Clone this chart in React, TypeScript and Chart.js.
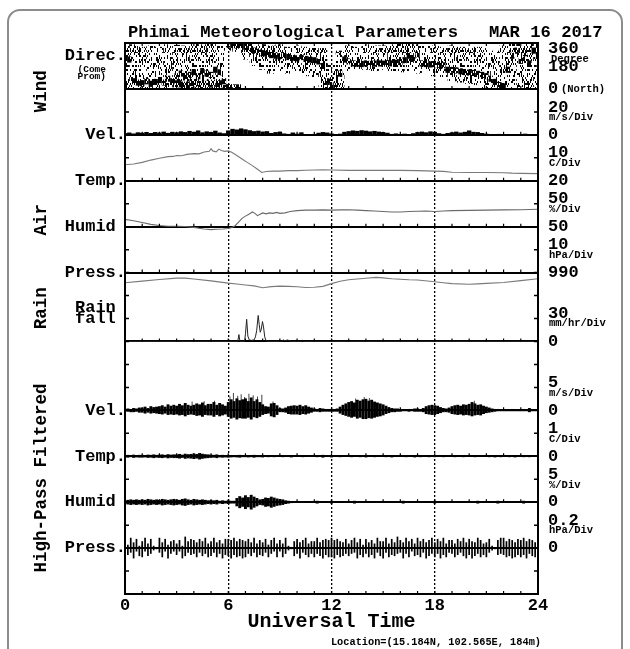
import React, { useEffect, useRef } from 'react';
import { Chart, registerables } from 'chart.js';

Chart.register(...registerables);

const FONT = '"Liberation Mono", "Courier New", "DejaVu Sans Mono", monospace';

// ---------- axis / panel definitions (in "divisions", 24 divisions tall) ----------
const X_TICKS = [0, 6, 12, 18, 24];
const BASELINES = [2, 4, 6, 8, 11, 14, 16, 18, 20, 22];
const P_DIR = { base: 22, ref: 0, perDiv: 180 };
const P_VEL = { base: 20, ref: 0, perDiv: 20 };
const P_TEMP = { base: 18, ref: 20, perDiv: 10 };
const P_HUM = { base: 16, ref: 50, perDiv: 50 };
const P_PRESS = { base: 14, ref: 990, perDiv: 10 };
const P_RAIN = { base: 11, ref: 0, perDiv: 30 };
const P_HPVEL = { base: 8, ref: 0, perDiv: 5 };
const P_HPTEMP = { base: 6, ref: 0, perDiv: 1 };
const P_HPHUM = { base: 4, ref: 0, perDiv: 5 };
const P_HPPRESS = { base: 2, ref: 0, perDiv: 0.2 };

const LEFT_LABELS = ['Direc.', 'Vel.', 'Temp.', 'Humid ', 'Press.', 'Rain ', 'fall ', 'Vel.', 'Temp.', 'Humid ', 'Press.'];
const LEFT_LABEL_DIVS = [23.43, 20, 18, 16, 14, 12.49, 12.0, 8, 6, 4, 2];
const LEFT_SMALL = ['(Come', 'Prom)'];
const LEFT_SMALL_DIVS = [22.83, 22.52];
const RIGHT_VALUES = ['360', '180', '0', '20', '0', '10', '20', '50', '50', '10', '990', '30', '0', '5', '0', '1', '0', '5', '0', '0.2', '0'];
const RIGHT_VALUE_DIVS = [23.77, 22.97, 22, 21.2, 20, 19.2, 18, 17.2, 16, 15.2, 14, 12.22, 11, 9.2, 8, 7.18, 6, 5.2, 4, 3.2, 2];
const RIGHT_UNITS = ['Degree', 'm/s/Div', 'C/Div', '%/Div', 'hPa/Div', 'mm/hr/Div', 'm/s/Div', 'C/Div', '%/Div', 'hPa/Div'];
const RIGHT_UNIT_DIVS = [23.3, 20.74, 18.74, 16.76, 14.76, 11.8, 8.74, 6.74, 4.75, 2.78];
const GROUP_LABELS = ['Wind', 'Air', 'Rain', 'High-Pass Filtered'];
const GROUP_DIVS = [21.9, 16.3, 12.45, 5.05];
const TITLE = 'Phimai Meteorological Parameters   MAR 16 2017';
const LOCATION = 'Location=(15.184N, 102.565E, 184m)';

// ---------- data ----------
// Wind direction (deg): scatter spread every 30 min, dark band every 15 min
const DIR_SPREAD_LO = [0, 0, 0, 0, 0, 0, 0, 0, 0, 0, 0, 0,
  300, 290, 230, 180, 150, 120, 130, 120, 140, 100, 90, 0,
  0, 0, 140, 150, 150, 140, 150, 140, 130, 140, 120, 140,
  100, 90, 60, 50, 40, 30, 0, 0, 0, 0, 0, 0, 0];
const DIR_SPREAD_HI = [360, 350, 330, 340, 330, 350, 345, 340, 360, 350, 360, 360,
  360, 360, 360, 360, 350, 340, 350, 330, 340, 330, 330, 320,
  200, 300, 340, 330, 350, 340, 340, 350, 360, 360, 350, 340,
  340, 330, 340, 330, 320, 330, 320, 300, 340, 360, 360, 360, 360];
const DIR_CORE = [250, 230, 60, 50, 45, 60, 40, 55, 70, 50, 80, 60, 100, 120, 90, 110,
  130, 100, 140, 120, 110, 150, 130, 60, 350, 345, 340, 345, 330, 320, 300, 290,
  280, 275, 265, 260, 255, 265, 250, 245, 240, 250, 235, 230, 225, 215, 180, 60,
  30, 20, 120, 230, 215, 200, 198, 195, 200, 196, 198, 200, 198, 202, 200, 205,
  210, 225, 260, 235, 270, 200, 195, 192, 195, 190, 185, 150, 150, 145, 138, 132,
  128, 125, 118, 110, 100, 80, 55, 30, 20, 150, 260, 300, 220, 280, 200, 300, 250];
const DIR_SECOND = [null, null, null, null, null, null, 40, 30, 50, 35, 45, 40,
  10, 8, null, null, null, null, null, null, null, null, null, null,
  null, null, null, null, null, null, null, null, null, null, null, null,
  null, null, null, null, null, null, null, null, null, null, null, null, null];

// Wind speed envelope (m/s), every 15 min
const WIND_VEL = [1.5, 2.0, 1.2, 2.2, 1.8, 2.5, 1.6, 2.4, 2.0, 2.8, 1.7, 2.6, 2.2, 3.0, 2.4, 3.4,
  2.6, 3.8, 2.2, 3.0, 2.4, 3.6, 2.0, 1.4, 3.8, 5.2, 4.6, 5.6, 4.8, 4.0, 3.2, 3.6,
  2.8, 3.2, 1.6, 2.4, 2.8, 1.2, 0.8, 2.0, 1.0, 2.2, 0.6, 0.4, 0.8, 1.8, 2.4, 2.0,
  1.2, 0.6, 1.0, 2.6, 3.2, 3.8, 3.4, 4.0, 3.6, 3.0, 3.4, 2.8, 2.4, 1.8, 0.8, 1.2,
  0.6, 1.0, 0.5, 1.4, 2.4, 2.8, 2.2, 3.0, 2.6, 1.4, 0.8, 1.6, 2.2, 2.8, 2.0, 2.6,
  3.8, 2.6, 2.4, 1.6, 1.0, 0.6, 0.4, 0.8, 0.4, 0.2, 0.6, 0.3, 0.4, 1.0, 0.3, 0.2, 0.2];

// Air temperature (C)
const TEMP_HOURS = [0, 0.5, 1, 1.5, 2, 2.5, 2.8, 3, 3.3, 3.6, 4, 4.3, 4.6, 4.9, 5, 5.1, 5.3, 5.45, 5.6, 5.8, 6, 6.2, 6.5, 6.8, 7.1, 7.4, 7.7, 7.95, 8.2, 8.6, 9, 9.5, 10, 10.5, 11, 11.5, 12, 13, 14, 15, 16, 17, 18, 18.5, 19, 20, 21, 22, 22.5, 23, 24];
const TEMP_C = [27.0, 27.3, 28.0, 29.0, 29.8, 30.5, 30.6, 31.0, 30.9, 31.5, 31.8, 31.7, 32.5, 32.8, 34.0, 33.0, 32.6, 33.8, 33.2, 32.8, 33.0, 32.4, 31.0, 29.5, 28.0, 26.6, 25.0, 23.6, 24.0, 24.2, 24.2, 24.4, 24.4, 24.6, 24.7, 24.8, 24.7, 24.5, 24.5, 24.6, 24.5, 24.4, 24.2, 24.1, 23.7, 23.6, 23.6, 23.5, 23.3, 23.2, 23.1];

// Relative humidity (%)
const HUM_HOURS = [0, 0.5, 1, 1.5, 2, 2.5, 3, 3.5, 4, 4.3, 4.6, 5, 5.3, 5.7, 6, 6.2, 6.4, 6.6, 6.8, 7, 7.2, 7.4, 7.55, 7.7, 7.85, 8, 8.2, 8.4, 8.6, 8.8, 9, 9.3, 9.6, 10, 10.5, 11, 11.5, 12, 12.5, 13, 13.5, 14, 14.5, 15, 15.5, 16, 16.5, 17, 17.5, 18, 18.5, 19, 20, 21, 22, 23, 24];
const HUM_PCT = [66, 63, 59, 55, 52.5, 51, 50.8, 50.5, 48.5, 46.5, 45, 43.5, 44.5, 45, 46, 48, 52, 60, 68, 73, 77, 82, 79, 74, 77, 80, 78, 80, 79, 81, 79, 80, 83, 85, 86, 86, 86.5, 86, 86.5, 87, 86, 85, 84, 83, 82, 82, 83, 83.5, 84, 83, 84, 85, 85.5, 86, 86.5, 87, 88];

// Pressure (hPa)
const PRESS_HOURS = [0, 1, 2, 3, 3.5, 4, 5, 6, 6.5, 7, 7.5, 8, 8.5, 9, 9.5, 10, 10.5, 11, 11.5, 12, 12.5, 13, 14, 14.6, 15, 15.5, 16, 16.5, 17, 18, 18.5, 19, 20, 20.5, 21, 22, 23, 24];
const PRESS_HPA = [985.6, 986.3, 987.0, 987.6, 987.6, 987.2, 986.4, 985.4, 985.0, 984.6, 984.2, 983.4, 983.9, 984.1, 984.0, 983.8, 983.5, 983.6, 984.0, 985.2, 986.2, 986.9, 987.5, 987.9, 987.7, 987.3, 987.1, 986.9, 986.8, 986.0, 985.6, 985.2, 984.9, 985.1, 985.3, 985.7, 986.5, 987.3];

// Rain fall rate (mm/hr)
const RAIN_HOURS = [0, 6.55, 6.62, 6.68, 6.95, 7.0, 7.07, 7.14, 7.22, 7.35, 7.5, 7.58, 7.65, 7.74, 7.8, 7.86, 7.92, 7.99, 8.05, 8.12, 8.2, 8.3, 9.1, 9.2, 9.3, 9.45, 9.6, 9.7, 10.25, 10.32, 10.4, 24];
const RAIN_RATE = [0, 0, 9, 0, 0, 10, 29, 7, 2, 1.5, 2, 6, 14, 34, 22, 12, 16, 26, 19, 6, 1, 0, 0, 2, 1, 2, 0.5, 0, 0, 1.5, 0, 0];

// High-pass filtered envelopes, every 10 min
const HP_VEL_UP = [0.3, 0.4, 0.3, 0.5, 0.4, 0.6, 0.6, 0.8, 0.5, 0.9, 0.7, 0.8, 0.9, 1.1, 0.8, 1.3, 1.0, 1.2,
  1.0, 1.4, 1.1, 1.6, 1.2, 1.0, 1.2, 1.5, 1.3, 1.7, 1.1, 1.4, 1.4, 1.8, 1.2, 1.6, 1.3, 1.0,
  1.8, 2.4, 2.0, 2.6, 2.2, 2.4, 2.6, 2.0, 2.8, 2.0, 2.4, 1.8, 1.3, 0.9, 0.8, 1.5, 1.6, 1.1,
  0.5, 0.4, 0.6, 0.9, 1.0, 1.1, 1.0, 1.2, 0.9, 1.1, 0.8, 0.6, 0.4, 0.3, 0.5, 0.4, 0.3, 0.3,
  0.3, 0.3, 0.4, 0.8, 1.2, 1.5, 1.8, 2.0, 1.7, 2.3, 2.1, 2.4, 2.5, 2.1, 2.3, 1.9, 1.7, 1.5,
  1.3, 1.0, 0.7, 0.5, 0.4, 0.4, 0.3, 0.3, 0.2, 0.3, 0.3, 0.4, 0.4, 0.3, 0.5, 0.9, 1.1, 1.2,
  1.1, 1.0, 0.7, 0.5, 0.4, 0.6, 0.9, 1.1, 1.2, 1.0, 1.3, 1.2, 1.4, 1.8, 1.5, 1.2, 1.3, 1.0,
  0.8, 0.6, 0.4, 0.3, 0.3, 0.2, 0.2, 0.2, 0.2, 0.3, 0.2, 0.2, 0.2, 0.3, 0.2, 0.5, 0.3, 0.2, 0.2];
const HP_VEL_DN = [0.3, 0.3, 0.4, 0.4, 0.3, 0.5, 0.5, 0.7, 0.5, 0.7, 0.6, 0.7, 0.8, 0.9, 0.7, 1.0, 0.9, 1.0,
  0.9, 1.1, 1.0, 1.3, 1.0, 0.9, 1.0, 1.2, 1.1, 1.4, 1.0, 1.1, 1.1, 1.4, 1.0, 1.3, 1.1, 0.9,
  1.4, 1.8, 1.6, 2.0, 1.7, 1.8, 1.8, 1.6, 2.0, 1.5, 1.7, 1.4, 1.0, 0.8, 0.7, 1.3, 1.5, 1.0,
  0.4, 0.4, 0.5, 0.8, 0.9, 0.9, 0.9, 1.0, 0.8, 0.9, 0.7, 0.5, 0.3, 0.3, 0.4, 0.3, 0.3, 0.3,
  0.3, 0.3, 0.3, 0.7, 1.0, 1.2, 1.4, 1.6, 1.4, 1.8, 1.6, 1.9, 1.9, 1.7, 1.8, 1.6, 1.4, 1.3,
  1.1, 0.8, 0.6, 0.4, 0.4, 0.3, 0.3, 0.2, 0.2, 0.3, 0.2, 0.3, 0.3, 0.3, 0.4, 0.8, 0.9, 1.0,
  1.0, 0.8, 0.6, 0.4, 0.4, 0.5, 0.8, 0.9, 1.0, 0.9, 1.1, 1.0, 1.1, 1.3, 1.1, 1.0, 1.1, 0.8,
  0.6, 0.5, 0.4, 0.3, 0.2, 0.2, 0.2, 0.2, 0.2, 0.2, 0.2, 0.2, 0.2, 0.2, 0.2, 0.4, 0.2, 0.2, 0.2];
// isolated gust spikes of the filtered wind speed (m/s)
const HP_VEL_SPIKE_HOURS = [3.9, 4.6, 5.2, 6.1, 6.3, 6.55, 6.75, 6.95, 7.2, 7.45, 7.7, 7.95, 8.6, 13.4, 13.9, 14.2, 20.3];
const HP_VEL_SPIKE = [1.9, 2.0, 2.1, 3.0, 3.8, 3.2, 3.5, 2.9, 3.6, 3.3, 3.0, 3.4, 1.9, 2.6, 2.9, 2.7, 2.1];
const HP_TEMP_AMP = [0.05, 0.06, 0.04, 0.07, 0.05, 0.06, 0.06, 0.05, 0.07, 0.06, 0.08, 0.06,
  0.07, 0.08, 0.06, 0.09, 0.07, 0.08, 0.08, 0.10, 0.07, 0.11, 0.09, 0.10, 0.12, 0.10, 0.14, 0.11, 0.09, 0.08,
  0.07, 0.06, 0.08, 0.05, 0.06, 0.05, 0.06, 0.05, 0.04, 0.05, 0.06, 0.04, 0.04, 0.05, 0.04, 0.06, 0.04, 0.04,
  0.05, 0.03, 0.04, 0.03, 0.04, 0.03, 0.03, 0.04, 0.03, 0.03, 0.05, 0.03, 0.03, 0.03, 0.04, 0.03, 0.03, 0.03,
  0.03, 0.04, 0.03, 0.06, 0.03, 0.03, 0.05, 0.03, 0.03, 0.04, 0.03, 0.03, 0.03, 0.04, 0.03, 0.03, 0.04, 0.03,
  0.05, 0.03, 0.03, 0.04, 0.03, 0.03, 0.03, 0.04, 0.03, 0.05, 0.03, 0.03, 0.03, 0.03, 0.04, 0.03, 0.03, 0.05,
  0.03, 0.04, 0.03, 0.03, 0.04, 0.03, 0.04, 0.03, 0.03, 0.04, 0.03, 0.03, 0.03, 0.04, 0.03, 0.03, 0.04, 0.03,
  0.03, 0.03, 0.04, 0.03, 0.03, 0.03, 0.03, 0.04, 0.03, 0.05, 0.03, 0.04, 0.03, 0.03, 0.04, 0.03, 0.05, 0.03,
  0.03, 0.04, 0.03, 0.04, 0.03, 0.03, 0.03];
const HP_HUM_AMP = [0.4, 0.5, 0.6, 0.5, 0.6, 0.5, 0.6, 0.5, 0.7, 0.6, 0.5, 0.6, 0.5, 0.7, 0.6, 0.5, 0.6, 0.7,
  0.6, 0.5, 0.7, 0.8, 0.6, 0.5, 0.7, 0.6, 0.5, 0.6, 0.5, 0.4, 0.5, 0.4, 0.5, 0.3, 0.4, 0.3,
  0.4, 0.3, 0.3, 0.9, 1.3, 1.0, 1.5, 1.1, 1.6, 1.2, 0.9, 0.6, 0.7, 1.0, 0.9, 1.2, 1.0, 0.8,
  0.7, 0.6, 0.4, 0.3, 0.2, 0.15, 0.1, 0.1, 0.15, 0.1, 0.1, 0.1, 0.1, 0.3, 0.1, 0.1, 0.1, 0.1,
  0.3, 0.1, 0.1, 0.1, 0.1, 0.1, 0.1, 0.1, 0.3, 0.1, 0.1, 0.1, 0.1, 0.1, 0.1, 0.1, 0.1, 0.1,
  0.1, 0.1, 0.1, 0.1, 0.1, 0.1, 0.1, 0.3, 0.1, 0.1, 0.1, 0.1, 0.1, 0.1, 0.1, 0.1, 0.1, 0.1,
  0.3, 0.1, 0.1, 0.1, 0.1, 0.1, 0.1, 0.1, 0.1, 0.1, 0.1, 0.1, 0.1, 0.1, 0.1, 0.3, 0.1, 0.1,
  0.1, 0.1, 0.1, 0.1, 0.3, 0.1, 0.1, 0.1, 0.1, 0.1, 0.1, 0.1, 0.1, 0.3, 0.1, 0.1, 0.1, 0.1, 0.1];
const HP_PRESS_UP = [0.07, 0.03, 0.09, 0.05, 0.08, 0.02, 0.06, 0.09, 0.04, 0.08, 0.02, 0.01,
  0.09, 0.05, 0.08, 0.03, 0.06, 0.07, 0.04, 0.07, 0.02, 0.10, 0.06, 0.08, 0.07, 0.05, 0.08, 0.06, 0.09, 0.04,
  0.06, 0.09, 0.05, 0.07, 0.04, 0.08, 0.08, 0.07, 0.09, 0.06, 0.08, 0.07, 0.06, 0.08, 0.05, 0.09, 0.04, 0.07,
  0.05, 0.08, 0.03, 0.07, 0.09, 0.04, 0.07, 0.04, 0.09, 0.02, 0.01, 0.06, 0.08, 0.05, 0.07, 0.09, 0.04, 0.06,
  0.06, 0.09, 0.05, 0.07, 0.08, 0.07, 0.09, 0.07, 0.08, 0.06, 0.05, 0.08, 0.04, 0.07, 0.09, 0.05, 0.08, 0.03,
  0.08, 0.05, 0.07, 0.04, 0.09, 0.06, 0.06, 0.09, 0.04, 0.08, 0.05, 0.10, 0.07, 0.05, 0.09, 0.06, 0.08, 0.04,
  0.09, 0.06, 0.08, 0.05, 0.07, 0.09, 0.05, 0.08, 0.06, 0.09, 0.04, 0.07, 0.07, 0.04, 0.08, 0.06, 0.09, 0.05,
  0.08, 0.06, 0.05, 0.09, 0.07, 0.04, 0.05, 0.08, 0.02, 0.01, 0.07, 0.09, 0.09, 0.06, 0.08, 0.07, 0.05, 0.08,
  0.07, 0.09, 0.06, 0.08, 0.07, 0.05, 0.06];
const HP_PRESS_DN = [0.05, 0.06, 0.04, 0.09, 0.03, 0.07, 0.08, 0.03, 0.07, 0.05, 0.02, 0.01,
  0.04, 0.08, 0.03, 0.09, 0.05, 0.03, 0.06, 0.03, 0.09, 0.07, 0.04, 0.06, 0.05, 0.08, 0.04, 0.07, 0.05, 0.08,
  0.07, 0.04, 0.08, 0.05, 0.09, 0.06, 0.07, 0.09, 0.06, 0.08, 0.07, 0.09, 0.08, 0.05, 0.07, 0.04, 0.08, 0.06,
  0.07, 0.04, 0.08, 0.05, 0.03, 0.08, 0.03, 0.08, 0.05, 0.02, 0.01, 0.07, 0.05, 0.09, 0.04, 0.06, 0.08, 0.05,
  0.08, 0.05, 0.07, 0.09, 0.06, 0.08, 0.08, 0.09, 0.06, 0.08, 0.07, 0.05, 0.07, 0.05, 0.04, 0.09, 0.06, 0.08,
  0.05, 0.08, 0.06, 0.09, 0.04, 0.07, 0.09, 0.04, 0.08, 0.06, 0.07, 0.05, 0.04, 0.09, 0.05, 0.08, 0.03, 0.07,
  0.06, 0.08, 0.04, 0.09, 0.07, 0.05, 0.08, 0.05, 0.09, 0.06, 0.08, 0.04, 0.05, 0.08, 0.06, 0.04, 0.07, 0.09,
  0.06, 0.09, 0.07, 0.05, 0.08, 0.06, 0.08, 0.04, 0.02, 0.01, 0.06, 0.05, 0.06, 0.08, 0.07, 0.09, 0.08, 0.06,
  0.08, 0.06, 0.09, 0.05, 0.07, 0.08, 0.05];

// ---------- helpers ----------
const toDiv = (p: any, v: number) => p.base + (v - p.ref) / p.perDiv;

// speckled fill texture (a style, like a hatch pattern) to imitate the dense dot plot
function speckle(ctx: CanvasRenderingContext2D, coverage: number, seed: number) {
  const c = document.createElement('canvas');
  c.width = 67;
  c.height = 53;
  const g = c.getContext('2d') as CanvasRenderingContext2D;
  g.fillStyle = '#000';
  for (let x = 0; x < c.width; x++) {
    for (let y = 0; y < c.height; y++) {
      const k = Math.floor(y / 2);
      let h = Math.imul(x + 1, 73856093) ^ Math.imul(k + 7, 19349663) ^ Math.imul(seed, 83492791);
      h = Math.imul(h ^ (h >>> 13), 1274126177);
      h ^= h >>> 16;
      if (((h >>> 0) % 1000) / 1000 < coverage) g.fillRect(x, y, 1, 1);
    }
  }
  return ctx.createPattern(c, 'repeat');
}

function buildDatasets(ctx: CanvasRenderingContext2D) {
  const bar = (extra: any) => ({ type: 'bar', grouped: false, borderWidth: 0, inflateAmount: 0, ...extra });
  const line = (extra: any) => ({ type: 'line', pointRadius: 0, tension: 0, fill: false, ...extra });
  return [
    bar({
      label: 'dir spread', order: 10, barThickness: 8.7, backgroundColor: speckle(ctx, 0.3, 3),
      data: DIR_SPREAD_LO.map((lo, i) => ({ x: i * 0.5, y: [toDiv(P_DIR, lo), toDiv(P_DIR, DIR_SPREAD_HI[i])] })),
    }),
    bar({
      label: 'dir core', order: 9, barThickness: 4.4, backgroundColor: speckle(ctx, 0.78, 11),
      data: DIR_CORE.map((d, i) => ({ x: i * 0.25, y: [toDiv(P_DIR, Math.max(0, d - 24)), toDiv(P_DIR, Math.min(360, d + 24))] })),
    }),
    bar({
      label: 'dir second', order: 9, barThickness: 8.7, backgroundColor: speckle(ctx, 0.6, 17),
      data: DIR_SECOND.map((d, i) => (d === null ? null : { x: i * 0.5, y: [toDiv(P_DIR, Math.max(0, d - 28)), toDiv(P_DIR, d + 28)] })).filter(Boolean),
    }),
    bar({
      label: 'wind vel', order: 5, barThickness: 4.4, backgroundColor: '#000',
      data: WIND_VEL.map((v, i) => ({ x: i * 0.25, y: [P_VEL.base, toDiv(P_VEL, v)] })),
    }),
    line({
      label: 'temp', order: 5, borderColor: '#7a7a7a', borderWidth: 1.1,
      data: TEMP_C.map((c, i) => ({ x: TEMP_HOURS[i], y: toDiv(P_TEMP, c) })),
    }),
    line({
      label: 'humid', order: 5, borderColor: '#6a6a6a', borderWidth: 1.1,
      data: HUM_PCT.map((h, i) => ({ x: HUM_HOURS[i], y: toDiv(P_HUM, h) })),
    }),
    line({
      label: 'press', order: 5, borderColor: '#7a7a7a', borderWidth: 1.1,
      data: PRESS_HPA.map((p, i) => ({ x: PRESS_HOURS[i], y: toDiv(P_PRESS, p) })),
    }),
    line({
      label: 'rain', order: 5, borderColor: '#222', borderWidth: 1,
      data: RAIN_RATE.map((r, i) => ({ x: RAIN_HOURS[i], y: toDiv(P_RAIN, r) })),
    }),
    bar({
      label: 'hp vel', order: 5, barThickness: 2.9, backgroundColor: '#000',
      data: HP_VEL_UP.map((u, i) => ({ x: i / 6, y: [toDiv(P_HPVEL, -HP_VEL_DN[i]), toDiv(P_HPVEL, u)] })),
    }),
    bar({
      label: 'hp vel spikes', order: 5, barThickness: 1, backgroundColor: '#444',
      data: HP_VEL_SPIKE.map((v, i) => ({ x: HP_VEL_SPIKE_HOURS[i], y: [P_HPVEL.base, toDiv(P_HPVEL, v)] })),
    }),
    bar({
      label: 'hp temp', order: 5, barThickness: 2.9, backgroundColor: '#000',
      data: HP_TEMP_AMP.map((a, i) => ({ x: i / 6, y: [toDiv(P_HPTEMP, -a), toDiv(P_HPTEMP, a)] })),
    }),
    bar({
      label: 'hp humid', order: 5, barThickness: 2.9, backgroundColor: '#000',
      data: HP_HUM_AMP.map((a, i) => ({ x: i / 6, y: [toDiv(P_HPHUM, -a), toDiv(P_HPHUM, a)] })),
    }),
    bar({
      label: 'hp press', order: 5, barThickness: 1.7, backgroundColor: '#000',
      data: HP_PRESS_UP.map((u, i) => ({ x: i / 6, y: [toDiv(P_HPPRESS, -HP_PRESS_DN[i]), toDiv(P_HPPRESS, u)] })),
    }),
  ];
}

const decorPlugin = {
  id: 'decor',
  afterDraw(chart: any) {
    const { ctx, chartArea: a } = chart;
    const xs = chart.scales.x;
    const ys = chart.scales.y;
    const Y = (d: number) => ys.getPixelForValue(d);
    ctx.save();

    // outer rounded frame
    ctx.strokeStyle = '#8c8c8c';
    ctx.lineWidth = 2;
    ctx.beginPath();
    ctx.moveTo(8, 649);
    ctx.lineTo(8, 22);
    ctx.arcTo(8, 10, 20, 10, 12);
    ctx.lineTo(610, 10);
    ctx.arcTo(622, 10, 622, 22, 12);
    ctx.lineTo(622, 649);
    ctx.stroke();

    // plot frame
    ctx.strokeStyle = '#000';
    ctx.lineWidth = 2;
    ctx.strokeRect(a.left, a.top, a.right - a.left, a.bottom - a.top);

    // inward division ticks on both side borders
    ctx.lineWidth = 1.5;
    ctx.beginPath();
    for (let d = 1; d < 24; d++) {
      const py = Y(d);
      ctx.moveTo(a.left, py); ctx.lineTo(a.left + 4, py);
      ctx.moveTo(a.right, py); ctx.lineTo(a.right - 4, py);
    }
    ctx.stroke();

    // hourly ticks on each baseline, bottom and top borders
    ctx.lineWidth = 1.2;
    ctx.beginPath();
    for (let h = 1; h < 24; h++) {
      const px = xs.getPixelForValue(h);
      [...BASELINES, 0].forEach((b) => { const py = Y(b); ctx.moveTo(px, py); ctx.lineTo(px, py - 3); });
      ctx.moveTo(px, a.top); ctx.lineTo(px, a.top + 3);
    }
    ctx.stroke();

    ctx.fillStyle = '#000';
    ctx.textBaseline = 'middle';

    // title
    ctx.font = `bold 17.2px ${FONT}`;
    ctx.textAlign = 'left';
    ctx.fillText(TITLE, 128, 33);

    // left labels
    ctx.textAlign = 'right';
    ctx.font = `bold 17px ${FONT}`;
    LEFT_LABELS.forEach((t, i) => ctx.fillText(t, a.left + 1, Y(LEFT_LABEL_DIVS[i])));
    ctx.font = `bold 9.5px ${FONT}`;
    LEFT_SMALL.forEach((t, i) => ctx.fillText(t, a.left - 19, Y(LEFT_SMALL_DIVS[i])));

    // right labels
    ctx.textAlign = 'left';
    ctx.font = `bold 17px ${FONT}`;
    RIGHT_VALUES.forEach((t, i) => ctx.fillText(t, a.right + 10, Y(RIGHT_VALUE_DIVS[i])));
    ctx.font = `bold 10.5px ${FONT}`;
    RIGHT_UNITS.forEach((t, i) => ctx.fillText(t, a.right + (t === 'Degree' ? 13 : 11), Y(RIGHT_UNIT_DIVS[i])));
    ctx.fillText('(North)', a.right + 23, Y(22));

    // group labels (rotated)
    ctx.font = `bold 17.5px ${FONT}`;
    ctx.textAlign = 'center';
    GROUP_LABELS.forEach((t, i) => {
      ctx.save();
      ctx.translate(42, Y(GROUP_DIVS[i]));
      ctx.rotate(-Math.PI / 2);
      ctx.fillText(t, 0, 0);
      ctx.restore();
    });

    // location note
    ctx.font = `bold 10.3px ${FONT}`;
    ctx.textAlign = 'right';
    ctx.fillText(LOCATION, 541, 642);
    ctx.restore();
  },
};

export default function App() {
  const ref = useRef<HTMLCanvasElement>(null);
  useEffect(() => {
    document.body.style.margin = '0';
    const canvas = ref.current as HTMLCanvasElement;
    const ctx = canvas.getContext('2d') as CanvasRenderingContext2D;
    const chart = new Chart(canvas, {
      type: 'bar',
      data: { datasets: buildDatasets(ctx) as any },
      options: {
        responsive: false,
        animation: false,
        events: [],
        layout: { padding: { top: 43, left: 0, right: 0, bottom: 0 } },
        plugins: { legend: { display: false }, tooltip: { enabled: false }, title: { display: false } },
        scales: {
          x: {
            type: 'linear', position: 'bottom', min: 0, max: 24, offset: false, z: 1,
            afterBuildTicks: (s: any) => { s.ticks = X_TICKS.map((v) => ({ value: v })); },
            afterFit: (s: any) => { s.height = 55; },
            ticks: { autoSkip: false, maxRotation: 0, padding: 2, color: '#000', font: { family: FONT, size: 17, weight: 'bold' } },
            grid: {
              offset: false, drawTicks: false, lineWidth: 1.3,
              color: (c: any) => (c.tick && c.tick.value > 0 && c.tick.value < 24 ? '#000' : 'rgba(0,0,0,0)'),
            },
            border: { display: false, dash: [2, 2] },
            title: { display: true, text: 'Universal Time', color: '#000', padding: { top: 0, bottom: 15 }, font: { family: FONT, size: 20, weight: 'bold' } },
          },
          y: {
            type: 'linear', position: 'left', min: 0, max: 24,
            afterFit: (s: any) => { s.width = 125; },
            ticks: { display: false },
            grid: { display: false },
            border: { display: false },
          },
          yR: {
            type: 'linear', position: 'right', min: 0, max: 24,
            afterFit: (s: any) => { s.width = 92; },
            ticks: { display: false, stepSize: 1 },
            grid: {
              drawTicks: false, lineWidth: 2,
              color: (c: any) => (c.tick && BASELINES.includes(c.tick.value) ? '#000' : 'rgba(0,0,0,0)'),
            },
            border: { display: false },
          },
        },
      } as any,
      plugins: [decorPlugin],
    } as any);
    return () => chart.destroy();
  }, []);
  return <canvas ref={ref} width={630} height={649} style={{ display: 'block' }} />;
}
